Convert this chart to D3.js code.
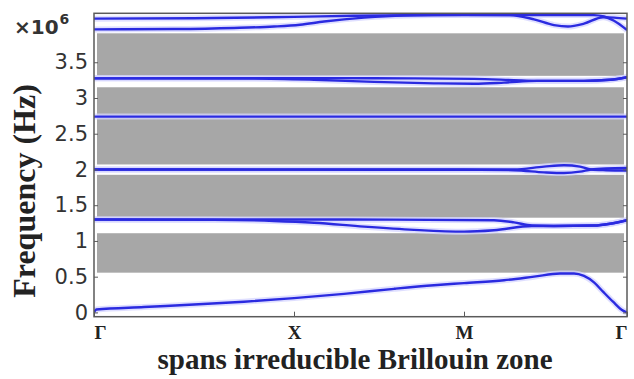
<!DOCTYPE html>
<html>
<head>
<meta charset="utf-8">
<script src="https://cdn.jsdelivr.net/npm/d3@7"></script>
<style>
  html, body { margin: 0; padding: 0; background: #fff; }
  svg { display: block; }
</style>
</head>
<body>
<svg id="chart" width="634" height="379"></svg>
<script>
// Path through the irreducible Brillouin zone (cumulative path length, arbitrary units)
const kNodes = [0, 1, 1.85, 2.665];
const kLabels = ["Γ", "X", "M", "Γ"];

// Frequency ticks (×10^6 Hz)
const yTicks = [0, 0.5, 1, 1.5, 2, 2.5, 3, 3.5];
const yTickLabels = ["0", "0.5", "1", "1.5", "2", "2.5", "3", "3.5"];

// Band gaps (×10^6 Hz): lower and upper edges
const gapLow  = [0.556, 1.325, 2.07, 2.755, 3.31];
const gapHigh = [1.108, 1.925, 2.725, 3.15, 3.905];

// Dispersion branches: [k, frequency ×10^6 Hz]
const band1 = [[0,0],[0.012,0.04],[0.25,0.075],[0.5,0.11],[0.75,0.15],[1,0.2],[1.25,0.26],[1.5,0.33],[1.7,0.38],[1.85,0.41],[2.05,0.45],[2.2,0.5],[2.33,0.545],[2.4,0.545],[2.45,0.51],[2.5,0.42],[2.545,0.29],[2.595,0.15],[2.645,0.025],[2.665,0]];
const band2 = [[0,1.3],[0.6,1.295],[0.9,1.28],[1.1,1.255],[1.35,1.2],[1.6,1.155],[1.85,1.13],[2.0,1.15],[2.19,1.21],[2.3,1.21],[2.5,1.215],[2.58,1.24],[2.665,1.29]];
const band3 = [[0,1.3],[1.0,1.3],[1.5,1.298],[2.0,1.29],[2.1,1.26],[2.19,1.215],[2.3,1.21],[2.5,1.215],[2.58,1.24],[2.665,1.29]];
const band4 = [[0,2.0],[1,1.998],[1.85,1.995],[2.1,1.99],[2.25,1.96],[2.35,1.95],[2.43,1.97],[2.485,2.0],[2.56,2.015],[2.665,2.02]];
const band5 = [[0,2.0],[1,2.0],[1.85,2.0],[2.1,2.0],[2.25,2.04],[2.35,2.06],[2.43,2.04],[2.485,2.0],[2.56,1.99],[2.665,1.985]];
const band6 = [[0,2.74],[1,2.74],[1.85,2.74],[2.665,2.74]];
const band7 = [[0,3.275],[0.8,3.272],[1.1,3.255],[1.4,3.225],[1.7,3.205],[1.9,3.2],[2.05,3.215],[2.215,3.24],[2.45,3.24],[2.58,3.255],[2.665,3.29]];
const band8 = [[0,3.275],[1.1,3.278],[1.6,3.275],[1.9,3.268],[2.1,3.25],[2.215,3.24],[2.45,3.24],[2.58,3.255],[2.665,3.29]];
const band9 = [[0,3.96],[0.4,3.965],[0.7,3.98],[0.9,4.0],[1.03,4.025],[1.15,4.07],[1.35,4.125],[1.55,4.155],[1.85,4.165],[2.08,4.16],[2.2,4.1],[2.3,4.02],[2.37,4.0],[2.45,4.04],[2.545,4.13],[2.6,4.125],[2.665,4.11]];
const band10 = [[0,4.11],[0.5,4.115],[1.0,4.135],[1.3,4.15],[1.6,4.16],[1.85,4.162],[2.2,4.162],[2.5,4.16],[2.55,4.14],[2.6,4.08],[2.665,3.95]];
const bands = [band1, band2, band3, band4, band5, band6, band7, band8, band9, band10];

const svg = d3.select("#chart");
const L = 94, R = 627, T = 13.3, B = 316.7;

const x = d3.scaleLinear().domain([kNodes[0], kNodes[kNodes.length - 1]]).range([L, R]);
const y = d3.scaleLinear().domain([-0.06, 4.185]).range([B, T]);

svg.append("defs").append("clipPath").attr("id", "plotClip")
  .append("rect").attr("x", L).attr("y", T).attr("width", R - L).attr("height", B - T);

// band-gap shading
svg.append("g").selectAll("rect")
  .data(d3.zip(gapLow, gapHigh))
  .join("rect")
  .attr("x", L + 3)
  .attr("width", R - L - 6)
  .attr("y", d => y(d[1]))
  .attr("height", d => y(d[0]) - y(d[1]))
  .attr("fill", "#a7a7a7");

// dispersion curves
const line = d3.line().x(d => x(d[0])).y(d => y(d[1])).curve(d3.curveMonotoneX);
const curves = svg.append("g").attr("clip-path", "url(#plotClip)");
curves.selectAll("path.halo").data(bands).join("path")
  .attr("class", "halo")
  .attr("d", line).attr("fill", "none")
  .attr("stroke", "#d4d4ff").attr("stroke-width", 6).attr("stroke-opacity", 0.75);
curves.selectAll("path.band").data(bands).join("path")
  .attr("class", "band")
  .attr("d", line).attr("fill", "none")
  .attr("stroke", "#2a2ae0").attr("stroke-width", 2.4)
  .attr("stroke-linejoin", "round");

// axes
const axisColor = "#5a5a5a";
const yAxis = d3.axisLeft(y).tickValues(yTicks)
  .tickFormat((d, i) => yTickLabels[i]).tickSizeInner(-4).tickSizeOuter(0).tickPadding(6);
const gy = svg.append("g").attr("transform", `translate(${L},0)`).call(yAxis);
gy.select(".domain").remove();
gy.selectAll("line").attr("stroke", axisColor);
gy.selectAll("text").attr("font-family", "DejaVu Sans").attr("font-size", 21).attr("fill", "#333");

const yAxisR = d3.axisRight(y).tickValues(yTicks).tickFormat("").tickSizeInner(-4).tickSizeOuter(0);
const gyr = svg.append("g").attr("transform", `translate(${R},0)`).call(yAxisR);
gyr.select(".domain").remove();
gyr.selectAll("line").attr("stroke", axisColor);

const xAxis = d3.axisBottom(x).tickValues(kNodes)
  .tickFormat((d, i) => kLabels[i]).tickSizeInner(-5).tickSizeOuter(0).tickPadding(9);
const gx = svg.append("g").attr("transform", `translate(0,${B})`).call(xAxis);
gx.select(".domain").remove();
gx.selectAll("line").attr("stroke", axisColor);
gx.selectAll("text")
  .attr("font-family", "Liberation Serif").attr("font-weight", "bold")
  .attr("font-size", 19).attr("fill", "#222")
  .attr("text-anchor", (d, i) => i === 0 ? "start" : (i === kNodes.length - 1 ? "end" : "middle"));

// plot frame
svg.append("rect").attr("x", L).attr("y", T).attr("width", R - L).attr("height", B - T)
  .attr("fill", "none").attr("stroke", axisColor).attr("stroke-width", 1.5);

// exponent label
const expo = svg.append("text").attr("x", 14).attr("y", 34)
  .attr("font-family", "DejaVu Sans").attr("font-weight", "bold").attr("font-size", 20).attr("fill", "#333");
expo.append("tspan").text("×10");
expo.append("tspan").attr("font-size", 14).attr("dy", -10).attr("dx", 1).text("6");

// axis titles
svg.append("text")
  .attr("transform", "translate(35,191) rotate(-90)")
  .attr("text-anchor", "middle")
  .attr("font-family", "Liberation Serif").attr("font-weight", "bold").attr("font-size", 32).attr("fill", "#222")
  .text("Frequency (Hz)");

svg.append("text")
  .attr("x", 355).attr("y", 369)
  .attr("text-anchor", "middle")
  .attr("font-family", "Liberation Serif").attr("font-weight", "bold").attr("font-size", 29).attr("fill", "#222")
  .text("spans irreducible Brillouin zone");
</script>
</body>
</html>
